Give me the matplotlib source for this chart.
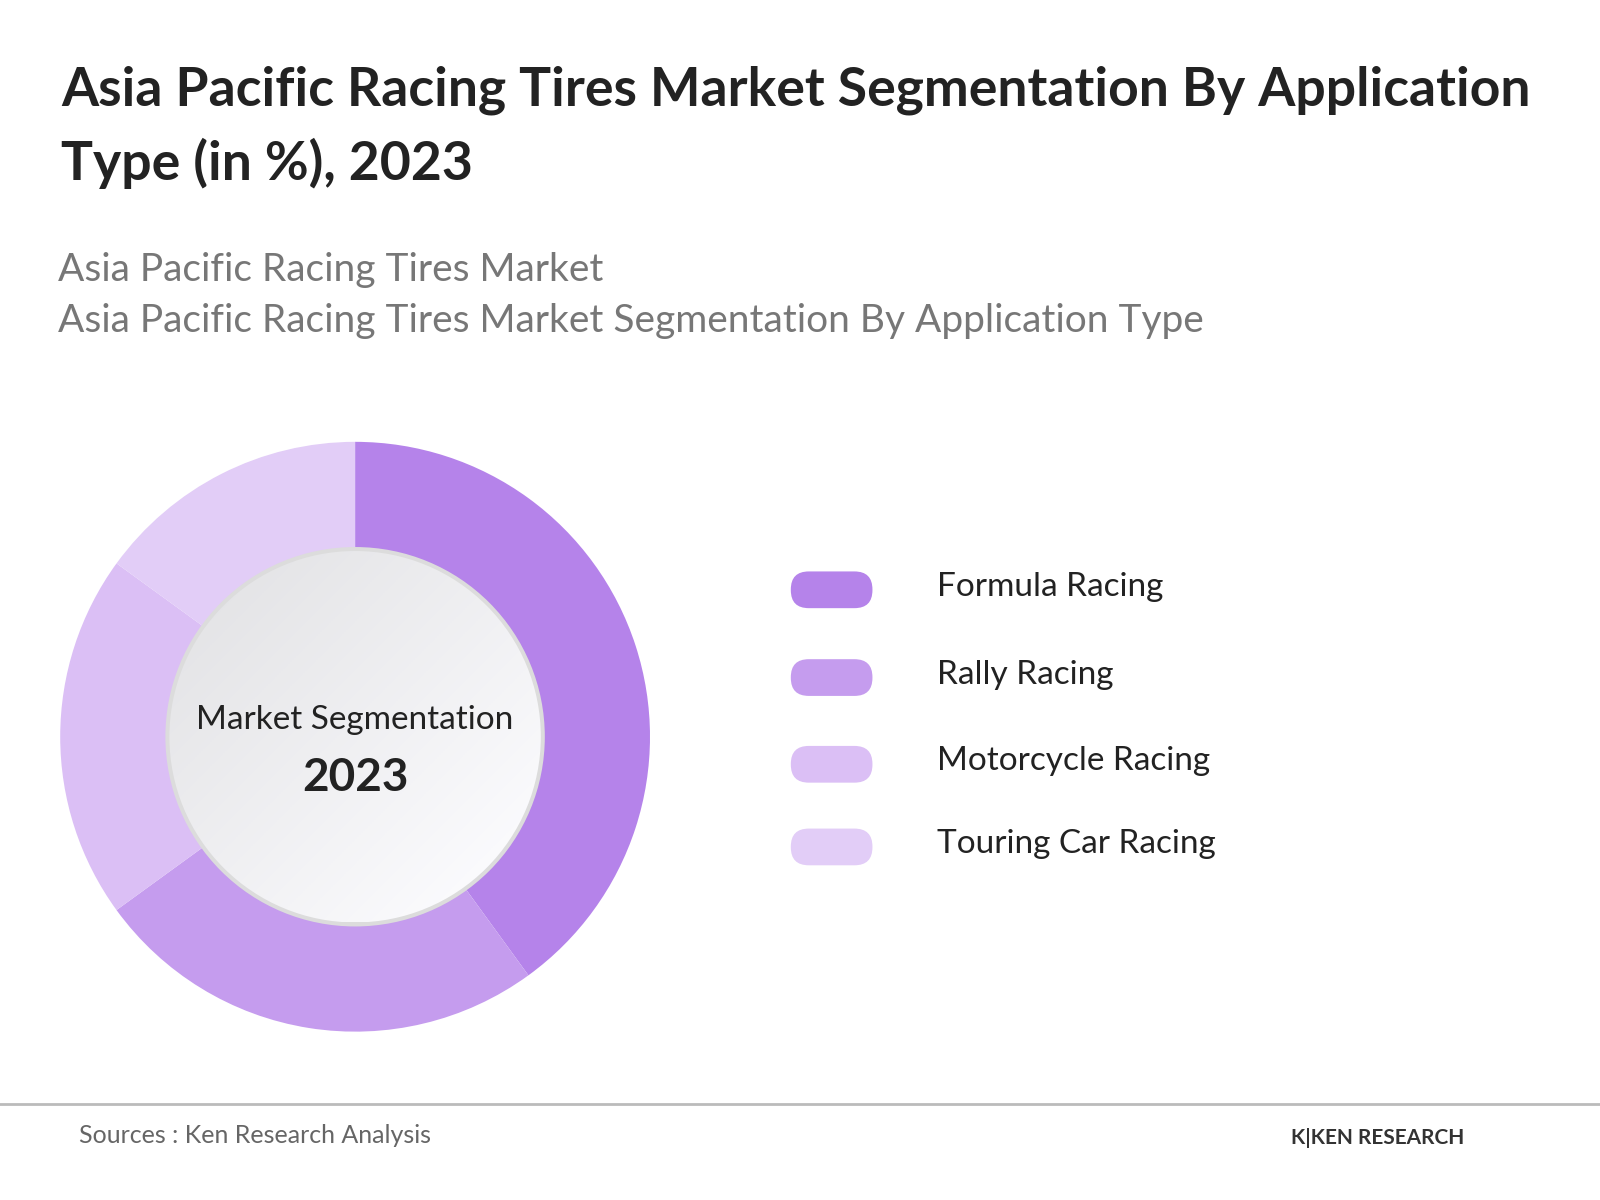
import matplotlib
matplotlib.use("Agg")
import matplotlib.pyplot as plt
import numpy as np
from matplotlib.patches import FancyBboxPatch, Circle, Wedge

categories = ["Formula Racing", "Rally Racing", "Motorcycle Racing", "Touring Car Racing"]
values = [40, 25, 20, 15]
colors = ["#b583ea", "#c59cee", "#dbbff5", "#e2cdf7"]

plt.rcParams['font.family'] = ['Lato', 'DejaVu Sans']
fig = plt.figure(figsize=(16, 12), dpi=100)
ax = fig.add_axes([0, 0, 1, 1])
ax.set_xlim(0, 1600); ax.set_ylim(1200, 0); ax.set_aspect('equal'); ax.axis('off')
s = 1600 / 1568

ax.text(60*s, 88*s, "Asia Pacific Racing Tires Market Segmentation By Application", fontsize=38.5, fontweight='bold', color='#222222', va='center')
ax.text(60*s, 160*s, "Type (in %), 2023", fontsize=38.5, fontweight='bold', color='#222222', va='center')
ax.text(57*s, 265*s, "Asia Pacific Racing Tires Market", fontsize=28, color='#777777', va='center')
ax.text(57*s, 315*s, "Asia Pacific Racing Tires Market Segmentation By Application Type", fontsize=28, color='#777777', va='center')

cx, cy = 348*s, 722*s
R = 289*s
ang = 0
for v, c in zip(values, colors):
    th1 = ang
    th2 = ang + v * 3.6
    ax.add_patch(Wedge((cx, cy), R, -90 + th1, -90 + th2, width=R - 185*s, color=c, lw=0))
    ang = th2

ri = 182*s
ax.add_patch(Circle((cx, cy), ri + 4, color='#dcdcdc', lw=0, zorder=3))
yy, xx = np.mgrid[0:1:200j, 0:1:200j]
g = 0.88 + 0.12 * (xx + yy) / 2
im = ax.imshow(np.dstack([g, g, g*1.01]).clip(0, 1), extent=(cx-ri, cx+ri, cy+ri, cy-ri), zorder=4)
im.set_clip_path(Circle((cx, cy), ri, transform=ax.transData))
ax.text(cx, 706*s, "Market Segmentation", fontsize=24, color='#222222', ha='center', va='center', zorder=5)
ax.text(cx, 762*s, "2023", fontsize=33, fontweight='bold', color='#222222', ha='center', va='center', zorder=5)

ly = [578, 664, 749, 830]
for name, c, y in zip(categories, colors, ly):
    ax.add_patch(FancyBboxPatch((775*s + 18, y*s - 18*s + 18), 80*s - 36, 36*s - 36,
                                boxstyle="round,pad=18", color=c, lw=0))
    ax.text(918*s, y*s - 3, name, fontsize=24, color='#222222', va='center')

ax.plot([0, 1600], [1082*s, 1082*s], color='#bbbbbb', lw=2)
ax.text(77*s, 1113*s, "Sources : Ken Research Analysis", fontsize=18, color='#666666', va='center')
ax.text(1265*s, 1115*s, "K|KEN RESEARCH", fontsize=15, fontweight='bold', color='#333333', va='center')

fig.savefig("out.png", dpi=100, facecolor='white')
